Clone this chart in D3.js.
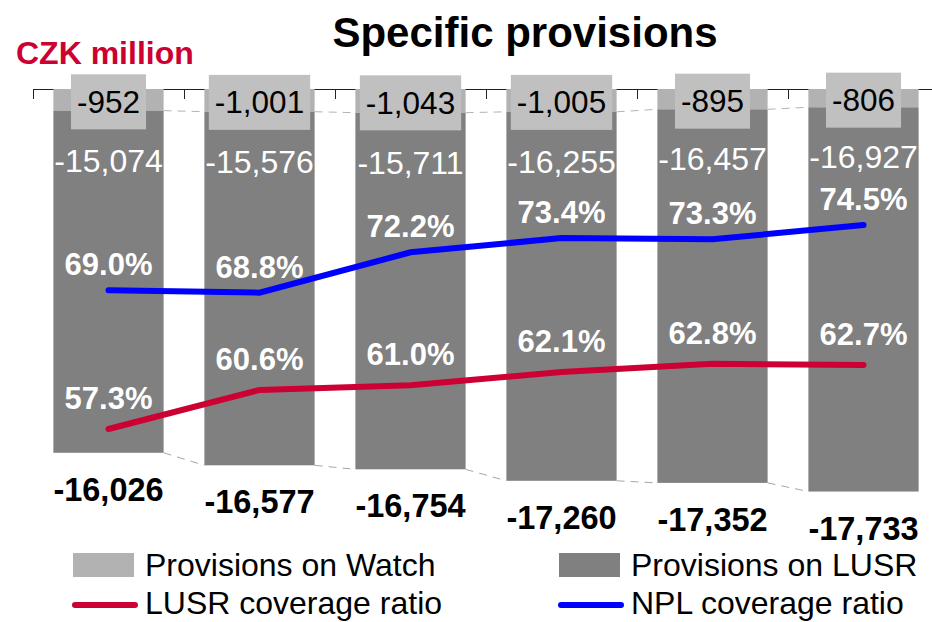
<!DOCTYPE html>
<html>
<head>
<meta charset="utf-8">
<script src="https://cdn.jsdelivr.net/npm/d3@7"></script>
<style>
  body { margin: 0; background: #fff; }
  svg { display: block; font-family: "Liberation Sans", Arial, sans-serif; }
</style>
</head>
<body>
<svg id="chart" width="932" height="622"></svg>
<script>
// chart data
const periods = ["1", "2", "3", "4", "5", "6"];
const watch = [-952, -1001, -1043, -1005, -895, -806];
const lusr = [-15074, -15576, -15711, -16255, -16457, -16927];
const lusrRatio = [57.3, 60.6, 61.0, 62.1, 62.8, 62.7];
const nplRatio = [69.0, 68.8, 72.2, 73.4, 73.3, 74.5];

const svg = d3.select("#chart");
const locale = d3.formatLocale({ decimal: ".", thousands: ",", grouping: [3], currency: ["", ""], minus: "-" });
const fmt = locale.format(",");
const pct = v => d3.format(".1f")(v) + "%";

const rows = periods.map((p, i) => ({
    p,
    watch: watch[i],
    lusr: lusr[i],
    total: watch[i] + lusr[i],
    lr: lusrRatio[i],
    nr: nplRatio[i]
}));

const x = d3.scaleBand().domain(periods).range([33, 939]).paddingInner(0.27).paddingOuter(0.135);
const y = d3.scaleLinear().domain([-20000, 0]).range([543, 89]);
const y2 = d3.scaleLinear().domain([50, 80]).range([515.6, 159.8]);
const bw = x.bandwidth();
const cx = d => x(d.p) + bw / 2;

// title
svg.append("text").attr("x", 525).attr("y", 47).attr("text-anchor", "middle")
    .style("font-size", "42px").style("font-weight", "bold").text("Specific provisions");
svg.append("text").attr("x", 16).attr("y", 64)
    .style("font-size", "32px").style("font-weight", "bold").style("fill", "#cc0033").text("CZK million");

// top axis with ticks at category boundaries
const bounds = d3.scaleLinear().domain([0, periods.length]).range([33, 939]);
const axis = svg.append("g").attr("transform", "translate(0,89)")
    .call(d3.axisBottom(bounds).ticks(periods.length).tickSize(10).tickSizeOuter(10).tickFormat(""));
axis.selectAll("path, line").attr("stroke", "#222");

// stacked bars
const bars = svg.append("g");
bars.selectAll(".watch").data(rows).enter().append("rect")
    .attr("x", d => x(d.p)).attr("width", bw)
    .attr("y", y(0)).attr("height", d => y(d.watch) - y(0))
    .attr("fill", "#b2b2b2");
bars.selectAll(".lusr").data(rows).enter().append("rect")
    .attr("x", d => x(d.p)).attr("width", bw)
    .attr("y", d => y(d.watch)).attr("height", d => y(d.total) - y(d.watch))
    .attr("fill", "#808080");

// series lines between bars
const pairs = d3.pairs(rows);
svg.append("g").selectAll("line").data(pairs).enter().append("line")
    .attr("x1", d => x(d[0].p) + bw).attr("x2", d => x(d[1].p))
    .attr("y1", d => y(d[0].watch)).attr("y2", d => y(d[1].watch))
    .attr("stroke", "#b4b4b4").attr("stroke-dasharray", "8,6");
svg.append("g").selectAll("line").data(pairs).enter().append("line")
    .attr("x1", d => x(d[0].p) + bw).attr("x2", d => x(d[1].p))
    .attr("y1", d => y(d[0].total)).attr("y2", d => y(d[1].total))
    .attr("stroke", "#a6a6a6").attr("stroke-dasharray", "8,6");

// ratio lines
const lineL = d3.line().x(cx).y(d => y2(d.lr));
const lineN = d3.line().x(cx).y(d => y2(d.nr));
svg.append("path").datum(rows).attr("d", lineN).attr("fill", "none")
    .attr("stroke", "#0000ff").attr("stroke-width", 6).attr("stroke-linecap", "round");
svg.append("path").datum(rows).attr("d", lineL).attr("fill", "none")
    .attr("stroke", "#cc0033").attr("stroke-width", 6).attr("stroke-linecap", "round");

// ratio labels
const pctLabels = svg.append("g").style("font-size", "31px").style("font-weight", "bold")
    .attr("fill", "#fff").attr("text-anchor", "middle");
pctLabels.selectAll(".n").data(rows).enter().append("text")
    .attr("x", cx).attr("y", d => y2(d.nr) - 15).text(d => pct(d.nr));
pctLabels.selectAll(".l").data(rows).enter().append("text")
    .attr("x", cx).attr("y", d => y2(d.lr) - 20).text(d => pct(d.lr));

// LUSR labels
svg.append("g").selectAll("text").data(rows).enter().append("text")
    .attr("x", cx).attr("y", d => y(d.watch) + 61)
    .attr("text-anchor", "middle").style("font-size", "32px").attr("fill", "#fff")
    .text(d => fmt(d.lusr));

// watch labels in boxes
const wl = svg.append("g").selectAll("g").data(rows).enter().append("g")
    .attr("transform", d => `translate(${cx(d)},${(y(0) + y(d.watch)) / 2 + 2})`);
wl.append("text").attr("y", 11).attr("text-anchor", "middle")
    .style("font-size", "31.5px").attr("fill", "#000").text(d => fmt(d.watch));
wl.each(function () {
    const g = d3.select(this);
    const w = g.select("text").node().getComputedTextLength();
    g.insert("rect", "text").attr("x", -w / 2 - 6).attr("width", w + 12)
        .attr("y", -27.5).attr("height", 55).attr("fill", "#c0c0c0");
});

// totals
svg.append("g").selectAll("text").data(rows).enter().append("text")
    .attr("x", cx).attr("y", d => y(d.total) + 48)
    .attr("text-anchor", "middle").style("font-size", "32.5px").style("font-weight", "bold")
    .text(d => fmt(d.total));

// legend
const legend = svg.append("g").style("font-size", "32px");
const items = [
    { label: "Provisions on Watch", type: "rect", color: "#b2b2b2", x: 73, y: 576 },
    { label: "Provisions on LUSR", type: "rect", color: "#808080", x: 559, y: 576 },
    { label: "LUSR coverage ratio", type: "line", color: "#cc0033", x: 73, y: 614 },
    { label: "NPL coverage ratio", type: "line", color: "#0000ff", x: 559, y: 614 }
];
items.forEach(it => {
    if (it.type === "rect") {
        legend.append("rect").attr("x", it.x).attr("y", it.y - 23).attr("width", 61).attr("height", 24).attr("fill", it.color);
    } else {
        legend.append("line").attr("x1", it.x + 2).attr("x2", it.x + 62).attr("y1", it.y - 9).attr("y2", it.y - 9)
            .attr("stroke", it.color).attr("stroke-width", 6).attr("stroke-linecap", "round");
    }
    legend.append("text").attr("x", it.x + 72).attr("y", it.y).text(it.label);
});
</script>
</body>
</html>
